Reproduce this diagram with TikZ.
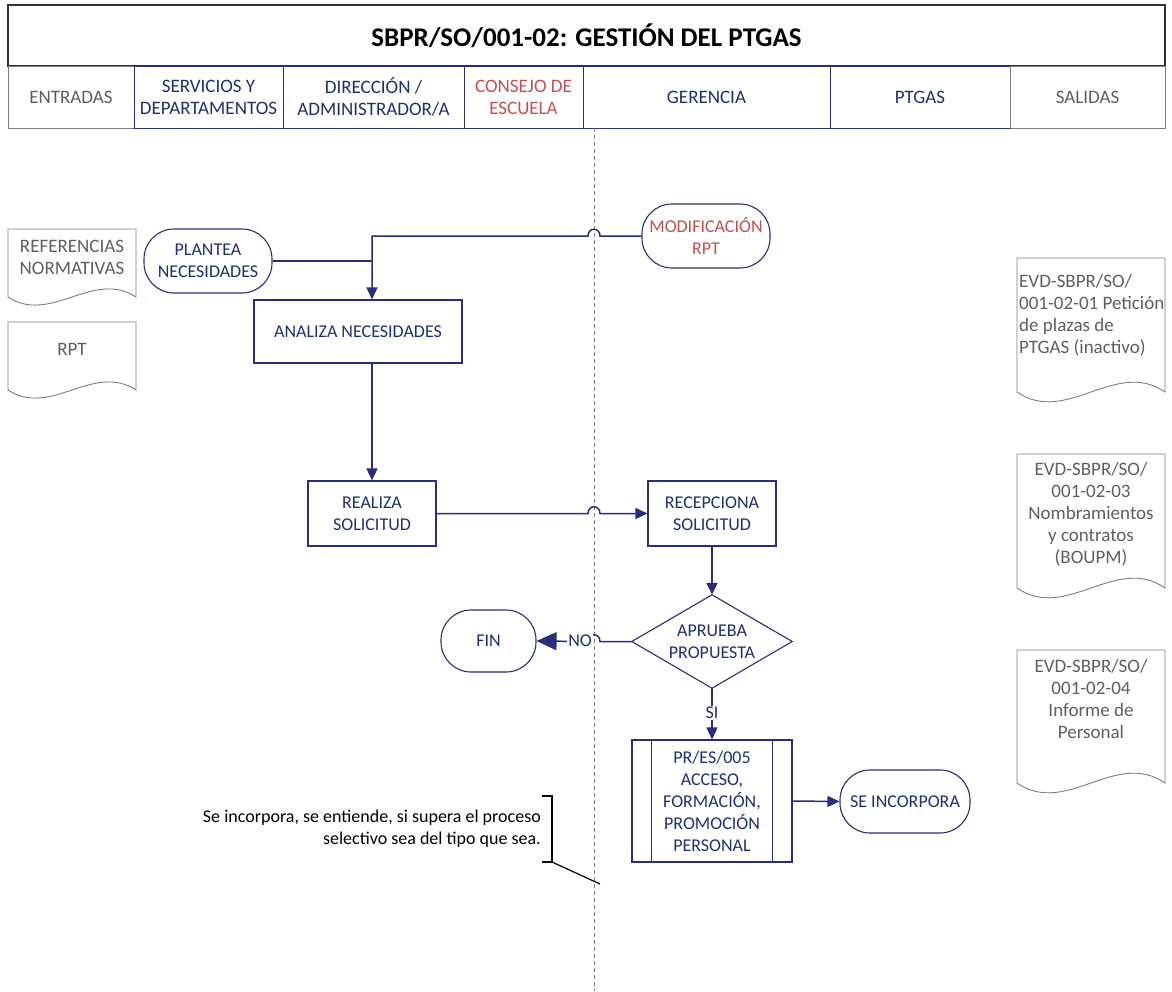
\documentclass[tikz,border=0pt]{standalone}
\usepackage{fontspec}
\setmainfont{Carlito}
\usetikzlibrary{arrows.meta,calc}
\definecolor{navy}{RGB}{40,46,122}
\definecolor{navyt}{RGB}{31,48,110}
\definecolor{redt}{RGB}{192,80,77}
\definecolor{grayt}{RGB}{95,95,95}
\definecolor{grayl}{RGB}{125,125,125}
\newcommand{\docpath}[6]{\draw[#1] (#2,#3) -- (#4,#3) -- (#4,#5) .. controls ({#4-(#4-#2)/3},{#5-#6}) and ({#2+(#4-#2)/3},{#5+#6}) .. (#2,#5) -- cycle;}
\begin{document}
\begin{tikzpicture}[x=1pt,y=-1pt,
  base/.style={font=\fontsize{18}{22}\selectfont, align=center, inner sep=0pt},
  term/.style={base, draw=navy, line width=1.1pt, rounded corners=30pt, minimum width=128pt, minimum height=64pt, text=navyt},
  procbox/.style={base, draw=navy, line width=1.1pt, text=navyt},
  flow/.style={draw=navy, line width=1.5pt, -{Triangle[length=12pt,width=11pt]}},
  bigflow/.style={draw=navy, line width=1.5pt, -{Triangle[length=20pt,width=18pt]}},
  conn/.style={draw=navy, line width=1.5pt},
  lanehdr/.style={base, font=\fontsize{19}{22}\selectfont, draw=navy, line width=1pt, minimum height=62pt, text=navyt},
  grayhdr/.style={base, font=\fontsize{19}{22}\selectfont, draw=grayl, line width=0.8pt, minimum height=62pt, text=grayt},
  docshape/.style={draw=grayl, line width=0.9pt, fill=white},
  doctext/.style={base, font=\fontsize{19}{22}\selectfont, text=grayt},
  lbl/.style={base, text=navyt, fill=white, inner sep=1pt},
  lane/.style={draw=grayl, line width=0.8pt, dash pattern=on 4pt off 3pt}
]
\useasboundingbox (0,0) rectangle (1172,991);

% title
\node[draw=black!80, line width=1.2pt, minimum width=1157pt, minimum height=61pt, inner sep=0pt,
      font=\fontsize{27}{30}\selectfont\bfseries] (title) at (586.5,35.5) {SBPR/SO/001-02: GESTIÓN DEL PTGAS};

% lane headers
\node[grayhdr, minimum width=126pt] (hEnt) at (71,97) {ENTRADAS};
\node[lanehdr, minimum width=149pt] (hSer) at (208.5,97) {SERVICIOS Y\\DEPARTAMENTOS};
\node[lanehdr, minimum width=181pt] (hDir) at (373.5,97) {DIRECCIÓN /\\ADMINISTRADOR/A};
\node[lanehdr, minimum width=119pt, text=redt] (hCon) at (523.5,97) {CONSEJO DE\\ESCUELA};
\node[lanehdr, minimum width=247pt] (hGer) at (706.5,97) {GERENCIA};
\node[lanehdr, minimum width=180pt] (hPtg) at (920,97) {PTGAS};
\node[grayhdr, minimum width=155pt] (hSal) at (1087.5,97) {SALIDAS};

% dashed separator
\coordinate (dtop) at (594,128);
\coordinate (dbot) at (594,991);
\draw[lane] (dtop) -- (dbot);

% left documents
\docpath{docshape}{8}{229}{136}{297}{28}
\node[doctext] (ref) at (72,257) {REFERENCIAS\\NORMATIVAS};
\docpath{docshape}{8}{322}{136}{390}{28}
\node[doctext] (rpt) at (72,349) {RPT};

% right documents
\docpath{docshape}{1017}{258}{1165}{392}{34}
\node[doctext, align=left, anchor=west] (d1) at (1019,315) {EVD-SBPR/SO/\\001-02-01 Petición\\de plazas de\\PTGAS (inactivo)};
\docpath{docshape}{1017}{454}{1165}{588}{34}
\node[doctext] (d2) at (1091,514) {EVD-SBPR/SO/\\001-02-03\\Nombramientos\\y contratos\\(BOUPM)};
\docpath{docshape}{1017}{650}{1165}{783}{34}
\node[doctext] (d3) at (1091,699) {EVD-SBPR/SO/\\001-02-04\\Informe de\\Personal};

% flow nodes
\node[term] (plan) at (208,261) {PLANTEA\\NECESIDADES};
\node[term, text=redt] (mod) at (706,236) {MODIFICACIÓN\\RPT};
\node[procbox, minimum width=208pt, minimum height=63pt] (ana) at (358,331.5) {ANALIZA NECESIDADES};
\node[procbox, minimum width=128pt, minimum height=65pt] (rea) at (372,513.5) {REALIZA\\SOLICITUD};
\node[procbox, minimum width=128pt, minimum height=65pt] (rec) at (712,513.5) {RECEPCIONA\\SOLICITUD};
\node[base, minimum width=160pt, minimum height=93pt, text=navyt] (dec) at (712,641.5) {APRUEBA\\PROPUESTA};
\draw[navy, line width=1.1pt] (dec.north) -- (dec.east) -- (dec.south) -- (dec.west) -- cycle;
\node[term, minimum width=95pt, minimum height=62pt] (fin) at (488.5,641) {FIN};
\node[procbox, minimum width=160pt, minimum height=122pt] (proc) at (712,801) {PR/ES/005\\ACCESO,\\FORMACIÓN,\\PROMOCIÓN\\PERSONAL};
\draw[navy, line width=1.1pt] ([xshift=20pt]proc.north west) -- ([xshift=20pt]proc.south west);
\draw[navy, line width=1.1pt] ([xshift=-20pt]proc.north east) -- ([xshift=-20pt]proc.south east);
\node[term, minimum width=130pt, minimum height=63pt] (inc) at (905,801.5) {SE INCORPORA};

% connectors
\coordinate (k1) at (372,236);
\coordinate (jA) at (594,236);
\draw[flow] (mod.west) -- ($(jA)+(6,0)$) .. controls ($(jA)+(6,-9)$) and ($(jA)+(-6,-9)$) .. ($(jA)+(-6,0)$) -- (k1) -- (k1 |- ana.north);
\draw[conn] (plan.east) -- (plan.east -| k1);
\draw[flow] (rea.north |- ana.south) -- (rea.north);
\coordinate (jB) at (rea.east -| dtop);
\draw[flow] (rea.east) -- ($(jB)+(-6,0)$) .. controls ($(jB)+(-6,-9)$) and ($(jB)+(6,-9)$) .. ($(jB)+(6,0)$) -- (rec.west);
\draw[flow] (rec.south) -- (dec.north);
\coordinate (jC) at (dec.west -| dtop);
\draw[bigflow] (dec.west) -- ($(jC)+(6,0)$) .. controls ($(jC)+(6,-9)$) and ($(jC)+(-6,-9)$) .. ($(jC)+(-6,0)$) -- (fin.east);
\node[lbl, anchor=east] (no) at (593,641) {NO};
\draw[flow] (dec.south) -- (proc.north) node[lbl, pos=0.48] (si) {SI};
\draw[flow] (proc.east) -- (inc.west);

% annotation
\node[base, anchor=east, align=right, text=black] (note) at (541,829) {Se incorpora, se entiende, si supera el proceso\\selectivo sea del tipo que sea.};
\coordinate (b1) at (542,796);
\coordinate (b2) at (552,796);
\coordinate (b3) at (552,862);
\coordinate (b4) at (542,862);
\coordinate (b5) at (600,884);
\draw[black, line width=1.2pt] (b1) -- (b2) -- (b3) -- (b4);
\draw[black, line width=1.2pt] (b3) -- (b5);
\end{tikzpicture}
\end{document}
